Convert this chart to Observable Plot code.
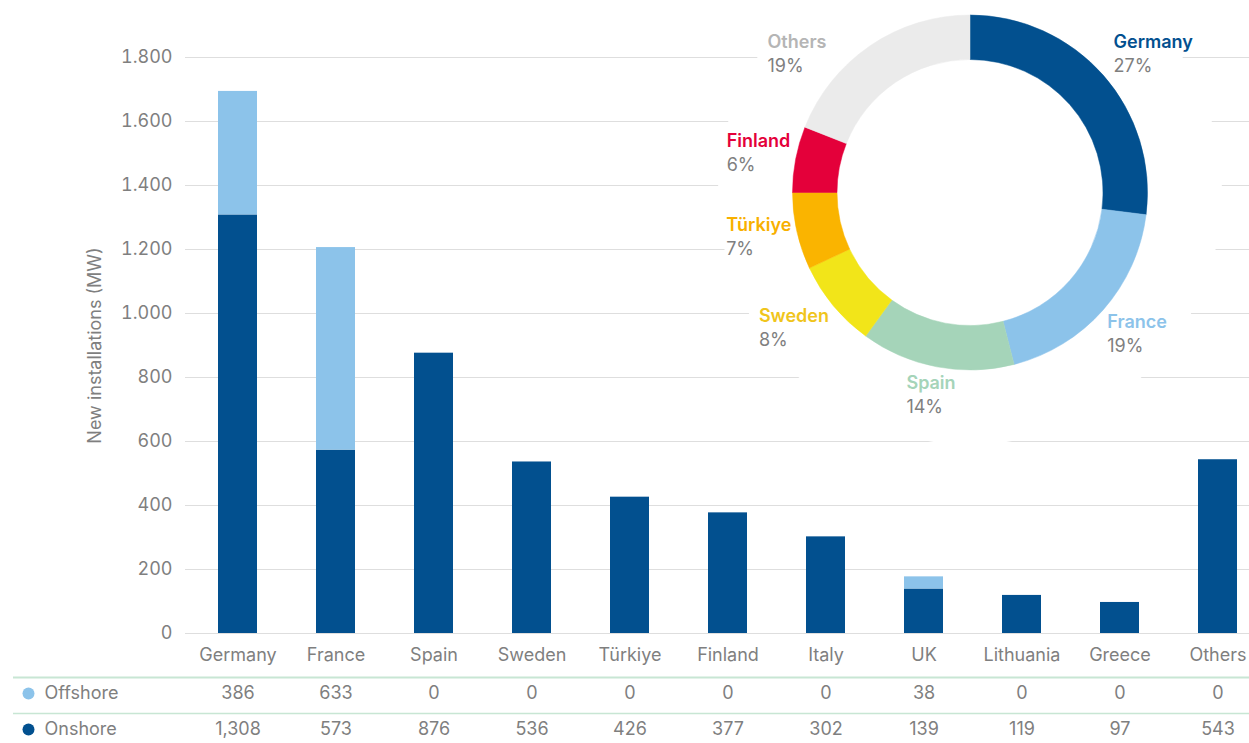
<!DOCTYPE html>
<html>
<head>
<meta charset="utf-8">
<script src="https://cdn.jsdelivr.net/npm/d3@7"></script>
<script src="https://cdn.jsdelivr.net/npm/@observablehq/plot@0.6"></script>
<style>
  html, body { margin: 0; padding: 0; background: white; overflow: hidden; }
</style>
</head>
<body>
<div id="chart"></div>
<script>
// ---- data ----
const categories = ["Germany", "France", "Spain", "Sweden", "Türkiye", "Finland", "Italy", "UK", "Lithuania", "Greece", "Others"];
const offshore = [386, 633, 0, 0, 0, 0, 0, 38, 0, 0, 0];
const onshore = [1308, 573, 876, 536, 426, 377, 302, 139, 119, 97, 543];
const seriesNames = ["Onshore", "Offshore"];
const yTicks = [0, 200, 400, 600, 800, 1000, 1200, 1400, 1600, 1800];
const pieLabels = ["Germany", "France", "Spain", "Sweden", "Türkiye", "Finland", "Others"];
const pieShares = [27, 19, 14, 8, 7, 6, 19];

// ---- styles ----
const seriesColors = ["#02508f", "#8cc3ea"];
const pieColors = ["#02508f", "#8cc3ea", "#a5d4b9", "#f2e519", "#fab400", "#e4003a", "#ebebeb"];
const pieTextColors = ["#02508f", "#8cc3ea", "#a5d4b9", "#f0c51c", "#f8b000", "#e4003a", "#b5b5b5"];
const grey = "#7f7f7f";
const font = "Inter, 'Open Sans', sans-serif";

const rows = categories.flatMap((c, i) => [
  {country: c, type: "Onshore", value: onshore[i]},
  {country: c, type: "Offshore", value: offshore[i]}
]);
const pieData = pieLabels.map((l, i) => ({label: l, share: pieShares[i], color: pieColors[i], text: pieTextColors[i]}));

const fmtAxis = d => d3.format(",")(d).replace(/,/g, ".");
const fmtTable = d3.format(",");

// donut overlay (render mark)
const cx = 970, cy = 192.5, rOuter = 177.5, rInner = 133, rLabel = 183, blockH = 48, minY = 55;
function donut() {
  const g = d3.create("svg:g");
  g.append("circle").attr("cx", cx).attr("cy", cy).attr("r", 252).attr("fill", "white");
  const arcs = d3.pie().sort(null).value(d => d.share)(pieData);
  const arc = d3.arc().innerRadius(rInner).outerRadius(rOuter);
  g.append("g").attr("transform", `translate(${cx},${cy})`)
    .selectAll("path").data(arcs).join("path")
    .attr("d", arc).attr("fill", d => d.data.color)
    .attr("stroke", d => d.data.color).attr("stroke-width", 0.5);
  const ctx = document.createElement("canvas").getContext("2d");
  arcs.forEach(a => {
    const mid = (a.startAngle + a.endAngle) / 2;
    const s = Math.sin(mid), c = Math.cos(mid), m = Math.max(Math.abs(s), Math.abs(c));
    ctx.font = `600 18px ${font}`;
    const w1 = ctx.measureText(a.data.label).width;
    ctx.font = `400 18px ${font}`;
    const w2 = ctx.measureText(a.data.share + "%").width;
    const w = Math.max(w1, w2);
    const px = cx + rLabel * s, py = cy - rLabel * c;
    let bx = px + (w / 2) * s / m, by = py - (blockH / 2) * c / m;
    if (by < minY) {
      by = minY;
      const dy = by + blockH / 2 - cy;
      const dx = Math.sqrt(Math.max(0, rLabel * rLabel - dy * dy));
      bx = cx + Math.sign(s) * (dx + w / 2);
    }
    const left = bx - w / 2;
    g.append("text").attr("x", left).attr("y", by - 12)
      .attr("text-anchor", "start").attr("dominant-baseline", "middle").attr("font-weight", 600)
      .attr("fill", a.data.text).attr("font-size", 18).text(a.data.label);
    g.append("text").attr("x", left).attr("y", by + 12)
      .attr("text-anchor", "start").attr("dominant-baseline", "middle")
      .attr("fill", grey).attr("font-size", 18).text(a.data.share + "%");
  });
  return g.node();
}

const chart = Plot.plot({
  width: 1249,
  height: 743,
  marginLeft: 185,
  marginRight: -21,
  marginTop: 57,
  marginBottom: 110,
  style: {fontFamily: font, fontSize: "18px", color: grey, background: "white", overflow: "hidden"},
  x: {domain: categories, paddingInner: 0.6, paddingOuter: 0.3, label: null},
  y: {domain: [0, 1800], label: null},
  color: {domain: seriesNames, range: seriesColors},
  marks: [
    Plot.gridY(yTicks, {stroke: "#dedede", strokeOpacity: 1, strokeWidth: 1}),
    Plot.barY(rows, {x: "country", y: "value", fill: "type", order: seriesNames}),
    donut,
    Plot.axisY(yTicks, {tickSize: 0, tickPadding: 13, tickFormat: fmtAxis, fill: grey,
      label: "New installations (MW)", labelAnchor: "center", labelArrow: "none", labelOffset: 97}),
    Plot.axisX({tickSize: 0, tickPadding: 15, fill: grey, label: null}),
    // data table below the chart
    Plot.ruleY([0], {dy: 44, insetLeft: -172, stroke: "#c8e6d4", strokeWidth: 2}),
    Plot.ruleY([0], {dy: 80, insetLeft: -172, stroke: "#c8e6d4", strokeWidth: 1.5}),
    Plot.text(categories, {x: d => d, text: (d, i) => fmtTable(offshore[i]), frameAnchor: "bottom", lineAnchor: "middle", dy: 60, fill: grey}),
    Plot.text(categories, {x: d => d, text: (d, i) => fmtTable(onshore[i]), frameAnchor: "bottom", lineAnchor: "middle", dy: 96, fill: grey}),
    Plot.dot(["Offshore"], {frameAnchor: "bottom-left", dx: -157, dy: 60, r: 6, fill: seriesColors[1], stroke: null}),
    Plot.dot(["Onshore"], {frameAnchor: "bottom-left", dx: -157, dy: 96, r: 6, fill: seriesColors[0], stroke: null}),
    Plot.text(["Offshore"], {text: d => d, frameAnchor: "bottom-left", lineAnchor: "middle", dx: -141, dy: 60, textAnchor: "start", fill: grey}),
    Plot.text(["Onshore"], {text: d => d, frameAnchor: "bottom-left", lineAnchor: "middle", dx: -141, dy: 96, textAnchor: "start", fill: grey})
  ]
});
document.getElementById("chart").append(chart);
</script>
</body>
</html>
